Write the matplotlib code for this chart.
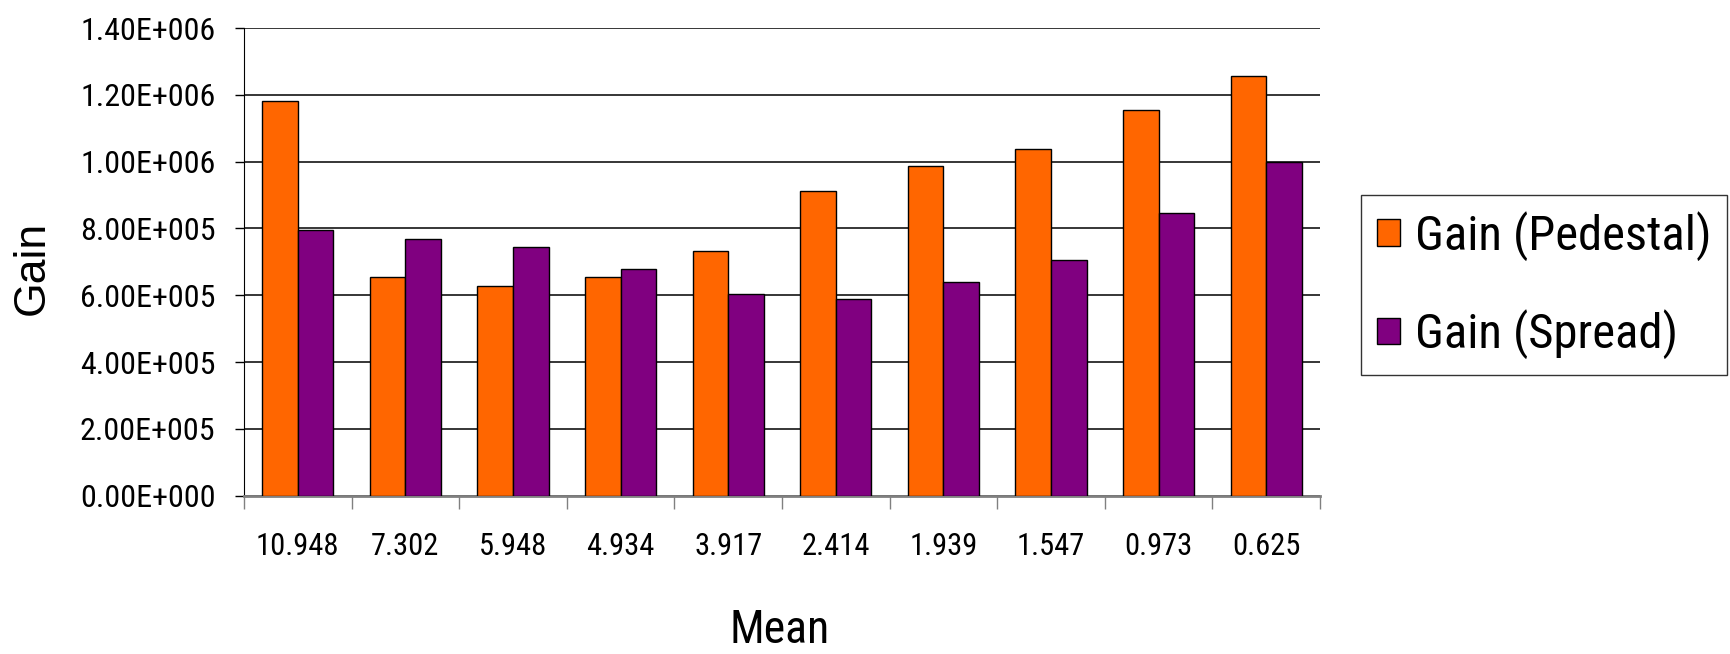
import numpy as np
import matplotlib
matplotlib.use("Agg")
import matplotlib.pyplot as plt
from matplotlib.ticker import FuncFormatter, FixedLocator

plt.rcParams['font.family'] = ['Roboto Condensed', 'Open Sans Condensed', 'Liberation Sans Narrow',
                               'Liberation Sans', 'DejaVu Sans']
plt.rcParams['font.stretch'] = 'condensed'

# data
means = ['10.948', '7.302', '5.948', '4.934', '3.917', '2.414', '1.939', '1.547', '0.973', '0.625']
gain_pedestal = [1.182e6, 6.55e5, 6.28e5, 6.55e5, 7.31e5, 9.11e5, 9.88e5, 1.039e6, 1.155e6, 1.257e6]
gain_spread = [7.95e5, 7.68e5, 7.44e5, 6.80e5, 6.04e5, 5.89e5, 6.41e5, 7.07e5, 8.47e5, 1.0e6]
series_names = ['Gain (Pedestal)', 'Gain (Spread)']
colors = ['#FF6600', '#800080']


def sci_label(v, pos):
    # Excel style 1.40E+006
    if v == 0:
        return '0.00E+000'
    e = int(np.floor(np.log10(abs(v))))
    return f"{v / 10**e:.2f}E+{e:03d}"


fig = plt.figure(figsize=(17.31, 6.54), dpi=100)
ax = fig.add_axes([244 / 1731, 1 - 495.7 / 654, (1320 - 244) / 1731, (495.7 - 28) / 654])

x = np.arange(len(means))
w = 0.33
ax.bar(x - w / 2, gain_pedestal, w, color=colors[0], edgecolor='black', linewidth=1,
       label=series_names[0], zorder=3)
ax.bar(x + w / 2, gain_spread, w, color=colors[1], edgecolor='black', linewidth=1,
       label=series_names[1], zorder=3)

ax.set_xlim(-0.5, len(means) - 0.5)
ax.set_ylim(0, 1.4e6)
ax.set_yticks(np.arange(0, 1.41e6, 2e5))
ax.yaxis.set_major_formatter(FuncFormatter(sci_label))
ax.yaxis.grid(True, color='black', linewidth=1.1, zorder=0)

# category boundaries carry the tick marks, labels sit on the centres
ax.xaxis.set_major_locator(FixedLocator(np.arange(-0.5, len(means), 1.0)))
ax.xaxis.set_major_formatter(FuncFormatter(lambda v, p: ''))
ax.set_xticks(x, minor=True)
ax.set_xticklabels(means, minor=True, fontsize=22)
ax.tick_params(axis='x', which='major', length=9, width=1, color='gray', direction='out')
ax.tick_params(axis='x', which='minor', length=0, pad=26)
ax.tick_params(axis='y', length=6.5, width=1, color='black', direction='out', labelsize=23, pad=14)

for s in ['top', 'right']:
    ax.spines[s].set_visible(False)
ax.spines['left'].set_color('black')
ax.spines['bottom'].set_color('gray')
ax.spines['bottom'].set_linewidth(2)

fig.text(32 / 1731, 1 - 268 / 654, 'Gain', rotation=90, ha='center', va='center', fontsize=32,
         family=['Liberation Sans', 'DejaVu Sans'], fontstretch='normal')
fig.text(780 / 1731, 2 / 654, 'Mean', ha='center', va='bottom', fontsize=33)

leg = ax.legend(loc='upper left', bbox_to_anchor=(1360.7 / 1731, 1 - 195 / 654),
                bbox_transform=fig.transFigure, fontsize=35, frameon=True, fancybox=False,
                handlelength=0.47, handleheight=0.47, handletextpad=0.31, labelspacing=1.0,
                borderpad=0.33, borderaxespad=0)
leg.get_frame().set_edgecolor('black')
leg.get_frame().set_linewidth(1)

fig.savefig('out.png', dpi=100)
